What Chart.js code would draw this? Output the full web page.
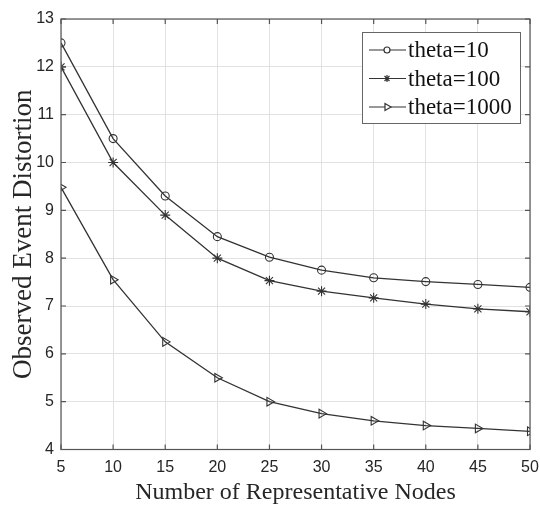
<!DOCTYPE html>
<html lang="en">
<head>
  <meta charset="UTF-8" />
  <title>Observed Event Distortion</title>
  <script src="https://cdn.jsdelivr.net/npm/chart.js"></script>
  <style>
    html, body { margin: 0; padding: 0; background: #fff; }
    #wrap { width: 540px; height: 509px; }
  </style>
</head>
<body>
  <div id="wrap"><canvas id="chart" width="540" height="509"></canvas></div>
  <script>
    const nodes = [5, 10, 15, 20, 25, 30, 35, 40, 45, 50];
    const theta10 = [12.5, 10.5, 9.3, 8.45, 8.02, 7.75, 7.59, 7.51, 7.45, 7.39];
    const theta100 = [12.0, 10.0, 8.9, 8.0, 7.53, 7.31, 7.17, 7.04, 6.94, 6.88];
    const theta1000 = [9.48, 7.55, 6.25, 5.5, 5.0, 4.75, 4.6, 4.5, 4.44, 4.38];
    const seriesLabels = ['theta=10', 'theta=100', 'theta=1000'];

    const lineColor = '#333333';
    const axisColor = '#555555';
    const serif = "'Liberation Serif', 'Times New Roman', serif";
    const sans = "'Liberation Sans', Arial, sans-serif";

    function toPoints(vals) {
      return vals.map((v, i) => ({ x: nodes[i], y: v }));
    }

    function makeSet(label, vals, style, radius, rotation, legendRadius) {
      return {
        label: label,
        data: toPoints(vals),
        borderColor: lineColor,
        borderWidth: 1.3,
        backgroundColor: 'rgba(0,0,0,0)',
        pointStyle: style,
        pointRadius: radius,
        pointRotation: rotation,
        pointBorderColor: lineColor,
        pointBorderWidth: 1.1,
        pointBackgroundColor: 'rgba(0,0,0,0)',
        legendRadius: legendRadius,
        tension: 0
      };
    }

    // box around plot + ticks pointing inward (matlab look)
    const boxPlugin = {
      id: 'boxPlugin',
      afterDatasetsDraw(chart) {
        const { ctx, chartArea: a, scales } = chart;
        ctx.save();
        ctx.strokeStyle = axisColor;
        ctx.lineWidth = 1.2;
        ctx.strokeRect(a.left, a.top, a.right - a.left, a.bottom - a.top);
        ctx.beginPath();
        scales.x.ticks.forEach(t => {
          const px = scales.x.getPixelForValue(t.value);
          ctx.moveTo(px, a.bottom); ctx.lineTo(px, a.bottom - 5);
          ctx.moveTo(px, a.top); ctx.lineTo(px, a.top + 5);
        });
        scales.y.ticks.forEach(t => {
          const py = scales.y.getPixelForValue(t.value);
          ctx.moveTo(a.left, py); ctx.lineTo(a.left + 5, py);
          ctx.moveTo(a.right, py); ctx.lineTo(a.right - 5, py);
        });
        ctx.stroke();
        ctx.restore();
      }
    };

    // legend with line + marker, drawn inside the plot
    const legendPlugin = {
      id: 'legendPlugin',
      afterDraw(chart) {
        const { ctx, chartArea: a } = chart;
        const boxW = 158, boxH = 91;
        const bx = a.right - 10 - boxW, by = a.top + 13;
        ctx.save();
        ctx.fillStyle = '#ffffff';
        ctx.fillRect(bx, by, boxW, boxH);
        ctx.strokeStyle = '#666666';
        ctx.lineWidth = 1;
        ctx.strokeRect(bx + 0.5, by + 0.5, boxW, boxH);
        ctx.font = '23px ' + serif;
        ctx.textBaseline = 'middle';
        chart.data.datasets.forEach((ds, i) => {
          const cy = by + 18 + i * 28.5;
          ctx.strokeStyle = lineColor;
          ctx.lineWidth = 1.2;
          ctx.beginPath();
          ctx.moveTo(bx + 7, cy);
          ctx.lineTo(bx + 44, cy);
          ctx.stroke();
          ctx.fillStyle = '#ffffff';
          Chart.helpers.drawPoint(ctx, {
            pointStyle: ds.pointStyle,
            radius: ds.legendRadius,
            rotation: ds.pointRotation,
            borderWidth: 1
          }, bx + 25, cy);
          ctx.fillStyle = '#111111';
          ctx.fillText(ds.label, bx + 46, cy + 1);
        });
        ctx.restore();
      }
    };

    const ctx = document.getElementById('chart').getContext('2d');
    new Chart(ctx, {
      type: 'line',
      data: {
        datasets: [
          makeSet(seriesLabels[0], theta10, 'circle', 4, 0, 3),
          makeSet(seriesLabels[1], theta100, 'star', 5, 0, 3.5),
          makeSet(seriesLabels[2], theta1000, 'triangle', 5, 90, 4)
        ]
      },
      options: {
        responsive: false,
        animation: false,
        layout: { padding: { top: 19, right: 10, left: 0, bottom: 0 } },
        scales: {
          x: {
            type: 'linear',
            min: 5,
            max: 50,
            afterFit: s => { s.height = 59.5; s.paddingLeft = 0; s.paddingRight = 0; },
            ticks: { stepSize: 5, padding: 8, color: '#262626', font: { family: sans, size: 16 } },
            grid: { color: '#e2e2e2', drawTicks: false },
            border: { display: false },
            title: {
              display: true,
              text: 'Number of Representative Nodes',
              color: '#262626',
              font: { family: serif, size: 24 },
              padding: { top: 0, bottom: 2 }
            }
          },
          y: {
            min: 4,
            max: 13,
            afterFit: s => { s.width = 61; s.paddingTop = 0; s.paddingBottom = 0; },
            ticks: { stepSize: 1, padding: 7, color: '#262626', font: { family: sans, size: 16 } },
            grid: { color: '#e2e2e2', drawTicks: false },
            border: { display: false },
            title: {
              display: true,
              text: 'Observed Event Distortion',
              color: '#262626',
              font: { family: serif, size: 27 },
              padding: { top: 8, bottom: 0 }
            }
          }
        },
        plugins: {
          legend: { display: false },
          tooltip: { enabled: false }
        }
      },
      plugins: [boxPlugin, legendPlugin]
    });
  </script>
</body>
</html>
